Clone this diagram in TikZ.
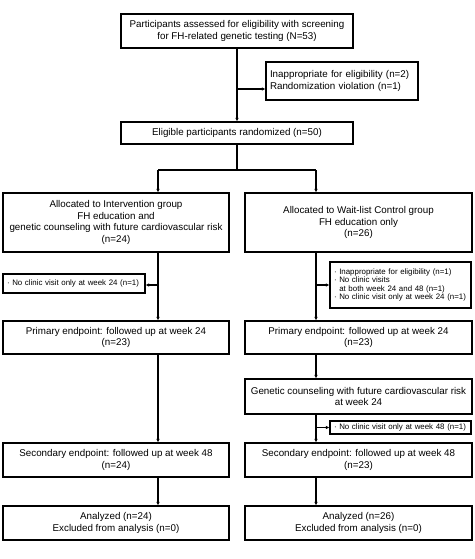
\documentclass[tikz,border=0pt]{standalone}
\usepackage{fontspec}
\setmainfont{Liberation Sans}
\usetikzlibrary{arrows.meta,calc}
\begin{document}
\begin{tikzpicture}[x=1pt,y=-1pt,
  box/.style={draw,line width=1.3pt,rectangle,inner sep=0pt,align=center,font=\fontsize{9.8}{11.7}\selectfont},
  sbox/.style={draw,line width=1.3pt,rectangle,inner sep=0pt,align=left,font=\fontsize{7.9}{8.4}\selectfont},
  mbox/.style={draw,line width=1.3pt,rectangle,inner sep=0pt,align=left,font=\fontsize{9.8}{11.5}\selectfont},
  conn/.style={line width=1.3pt},
  arr/.style={line width=1.3pt,-{Latex[length=3.5pt,width=3.5pt]}}]
\useasboundingbox (0,0) rectangle (474,559);
\node[box,minimum width=232pt,minimum height=34pt] (top) at (237,31) {Participants assessed for eligibility with screening\\for FH-related genetic testing (N=53)};
\node[mbox,minimum width=152pt,minimum height=38pt,text width=144pt] (excl) at (342,81) {Inappropriate for eligibility (n=2)\\Randomization violation (n=1)};
\node[box,minimum width=232pt,minimum height=22pt] (elig) at (237,133) {Eligible participants randomized (n=50)};
\node[box,minimum width=226pt,minimum height=59pt] (LG) at (116,222.5) {Allocated to Intervention group\\FH education and\\genetic counseling with future cardiovascular risk\\(n=24)};
\node[box,minimum width=227pt,minimum height=59pt] (RG) at (358.5,222.5) {Allocated to Wait-list Control group\\FH education only\\(n=26)};
\node[sbox,minimum width=142pt,minimum height=19pt,text width=134pt] (LS) at (74,283.5) {· No clinic visit only at week 24 (n=1)};
\node[sbox,minimum width=141pt,minimum height=46pt,text width=133pt] (RS) at (400.5,285) {· Inappropriate for eligibility (n=1)\\· No clinic visits\\\phantom{· }at both week 24 and 48 (n=1)\\· No clinic visit only at week 24 (n=1)};
\node[box,minimum width=226pt,minimum height=33pt] (LP) at (116,337.5) {Primary endpoint: followed up at week 24\\(n=23)};
\node[box,minimum width=227pt,minimum height=33pt] (RP) at (358.5,337.5) {Primary endpoint: followed up at week 24\\(n=23)};
\node[box,minimum width=227pt,minimum height=35pt] (RGen) at (358.5,396.5) {Genetic counseling with future cardiovascular risk\\at week 24};
\node[sbox,minimum width=141pt,minimum height=13pt,text width=133pt] (RS2) at (400.5,427.5) {· No clinic visit only at week 48 (n=1)};
\node[box,minimum width=226pt,minimum height=34pt] (LSec) at (116,460) {Secondary endpoint: followed up at week 48\\(n=24)};
\node[box,minimum width=227pt,minimum height=34pt] (RSec) at (358.5,460) {Secondary endpoint: followed up at week 48\\(n=23)};
\node[box,minimum width=226pt,minimum height=34pt] (LA) at (116,523) {Analyzed (n=24)\\Excluded from analysis (n=0)};
\node[box,minimum width=227pt,minimum height=34pt] (RA) at (358.5,523) {Analyzed (n=26)\\Excluded from analysis (n=0)};
\coordinate (lx) at (158,0);
\coordinate (rx) at (316,0);
\coordinate (b1) at (237,89);
\coordinate (split) at (237,170);
\coordinate (b2) at (158,285);
\coordinate (b3) at (316,285);
\coordinate (b4) at (316,427.5);
% top
\draw[arr] (top.south) -- (elig.north);
\draw[arr] (b1) -- (b1 -| excl.west);
\draw[conn] (elig.south) -- (split);
\draw[arr] (split -| lx) -- (LG.north -| lx);
\draw[arr] (split -| rx) -- (RG.north -| rx);
\draw[conn] (split -| lx) -- (split -| rx);
% left
\draw[arr] (LG.south -| lx) -- (LP.north -| lx);
\draw[arr] (b2) -- (b2 -| LS.east);
\draw[arr] (LP.south -| lx) -- (LSec.north -| lx);
\draw[arr] (LSec.south -| lx) -- (LA.north -| lx);
% right
\draw[arr] (RG.south -| rx) -- (RP.north -| rx);
\draw[arr] (b3) -- (b3 -| RS.west);
\draw[arr] (RP.south -| rx) -- (RGen.north -| rx);
\draw[arr] (RGen.south -| rx) -- (RSec.north -| rx);
\draw[arr] (b4) -- (b4 -| RS2.west);
\draw[arr] (RSec.south -| rx) -- (RA.north -| rx);
\end{tikzpicture}
\end{document}
